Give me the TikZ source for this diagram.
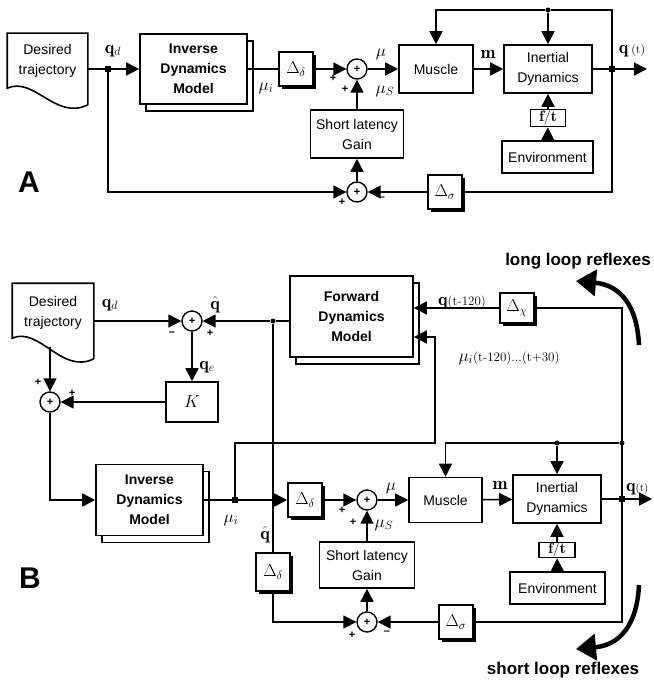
\documentclass[tikz,border=0pt]{standalone}
\usepackage{fontspec}
\setsansfont{Liberation Sans}
\usepackage{amsmath,amssymb}
\usetikzlibrary{arrows.meta,shadows}

\tikzset{
  blk/.style={draw, line width=1.6pt, fill=white, align=center, inner sep=0pt,
    font=\sffamily\fontsize{14}{20}\selectfont},
  mdl/.style={blk, font=\sffamily\bfseries\fontsize{14}{20}\selectfont,
    copy shadow={shadow xshift=6pt, shadow yshift=-7pt}},
  dly/.style={draw, line width=1.6pt, fill=white, minimum width=34pt, minimum height=34pt,
    inner sep=0pt, font=\fontsize{18}{18}\selectfont,
    drop shadow={shadow xshift=3pt, shadow yshift=-3pt, fill=black, opacity=1}},
  sum/.style={circle, draw, line width=1.4pt, fill=white, minimum size=20pt, inner sep=0pt,
    font=\sffamily\bfseries\fontsize{11}{11}\selectfont},
  jct/.style={fill, rectangle, minimum size=6pt, inner sep=0pt},
  dot/.style={fill, circle, minimum size=5pt, inner sep=0pt},
  sgn/.style={font=\sffamily\bfseries\fontsize{11}{11}\selectfont, inner sep=0pt},
  lbl/.style={font=\fontsize{18}{18}\selectfont, inner sep=0pt},
  wire/.style={line width=1.6pt},
  arr/.style={-{Triangle[length=13pt,width=13pt]}},
  rfx/.style={line width=4.5pt, -{Triangle[length=20pt,width=26pt]}},
  ttl/.style={font=\sffamily\bfseries\fontsize{30}{30}\selectfont},
  rfxtxt/.style={font=\sffamily\bfseries\fontsize{17}{17}\selectfont}
}

\begin{document}
\begin{tikzpicture}[x=1pt,y=-1pt]
\clip (0,0) rectangle (653,682);

% ---------- A ----------
\node[blk, draw=none, fill=none, minimum width=79pt, minimum height=70pt] (dtA) at (47.5,69) {Desired\\trajectory\\~};
\draw[wire] (dtA.south east) -- (dtA.north east) -- (dtA.north west) -- ++(0,55)
  .. controls +(27,-12) and +(-32,16) .. (dtA.south east);
\node[jct] (jA1) at (108,69) {};
\node[mdl, minimum width=107pt, minimum height=70pt] (idmA) at (193.5,69) {Inverse\\Dynamics\\Model};
\node[dly] (ddA) at (296,69) {$\Delta_\delta$};
\node[sum] (sA1) at (357,69) {+};
\node[blk, minimum width=74pt, minimum height=48pt] (musA) at (436,69) {Muscle};
\node[blk, minimum width=88pt, minimum height=48pt] (inA) at (548,69) {Inertial\\Dynamics};
\node[jct] (jA2) at (612,69) {};
\coordinate (oA) at (647,69);
\node[dot] (tA) at (548,10) {};
\node[blk, minimum width=35pt, minimum height=17pt, font=\fontsize{15}{15}\selectfont] (ftA) at (548,118) {$\mathbf{f/t}$};
\node[blk, minimum width=91pt, minimum height=32pt] (envA) at (547.5,157) {Environment};
\node[blk, minimum width=93pt, minimum height=48pt] (slgA) at (357,134) {Short latency\\Gain};
\node[sum] (sA2) at (357,192) {+};
\node[dly] (dsA) at (445,192) {$\Delta_\sigma$};

\draw[wire] (dtA) -- (jA1);
\draw[wire, arr] (jA1) -- (idmA);
\draw[wire] (idmA) -- (ddA);
\draw[wire, arr] (ddA) -- (sA1);
\draw[wire, arr] (sA1) -- (musA);
\draw[wire, arr] (musA) -- (inA);
\draw[wire] (inA) -- (jA2);
\draw[wire, arr] (jA2) -- (oA);
\draw[wire, arr] (jA2) |- (tA) -| (musA);
\draw[wire, arr] (tA) -- (inA);
\draw[wire, arr] (envA) -- (ftA);
\draw[wire, arr] (ftA) -- (inA);
\draw[wire, arr] (slgA) -- (sA1);
\draw[wire, arr] (sA2) -- (slgA);
\draw[wire, arr] (jA1) |- (sA2);
\draw[wire] (jA2) |- (dsA);
\draw[wire, arr] (dsA) -- (sA2);

\node[lbl] (lqdA) at (113,51) {$\mathbf{q}_d$};
\node[lbl] (lmuiA) at (266,88) {$\mu_i$};
\node[lbl] (lmuA) at (381,54) {$\mu$};
\node[lbl] (lmusA) at (385,91) {$\mu_S$};
\node[lbl] (lmA) at (488,54) {$\mathbf{m}$};
\node[lbl] (lqA) at (632,51) {$\mathbf{q}$\,{\fontsize{12}{12}\selectfont(t)}};
\node[sgn] (pA1) at (333,78) {+};
\node[sgn] (pA2) at (345,89) {+};
\node[sgn] (pA3) at (342,202) {+};
\node[sgn] (mA1) at (382,199) {--};
\node[ttl] (lA) at (29,182) {A};

% ---------- B ----------
\node[blk, draw=none, fill=none, minimum width=80pt, minimum height=74pt] (dtB) at (53,321) {Desired\\trajectory\\~};
\draw[wire] (dtB.south east) -- (dtB.north east) -- (dtB.north west) -- ++(0,55)
  .. controls +(27,-12) and +(-32,16) .. (dtB.south east);
\coordinate (dtBb) at (50,347);
\node[sum] (sB1) at (192,321) {+};
\node[dot] (jB1) at (273,321) {};
\node[mdl, minimum width=123pt, minimum height=81pt] (fdm) at (351.5,316.5) {Forward\\Dynamics\\Model};
\node[dly, minimum height=30pt] (dcB) at (517,308) {$\Delta_\chi$};
\node[sum] (sB2) at (50,402) {+};
\node[blk, minimum width=52pt, minimum height=40pt, font=\fontsize{18}{18}\selectfont] (K) at (192,402) {$K$};
\node[mdl, minimum width=107pt, minimum height=71pt] (idmB) at (149.5,500) {Inverse\\Dynamics\\Model};
\node[jct] (jB2) at (235,500) {};
\node[dly] (ddB1) at (305,500) {$\Delta_\delta$};
\node[dly, minimum height=38pt] (ddB2) at (273,572) {$\Delta_\delta$};
\node[sum] (sB3) at (367,500) {+};
\node[blk, minimum width=73pt, minimum height=45pt] (musB) at (445.5,500) {Muscle};
\node[blk, minimum width=88pt, minimum height=48pt] (inB) at (557,499) {Inertial\\Dynamics};
\node[dot] (jB3) at (622,443) {};
\node[jct] (jB4) at (622,499) {};
\node[dot] (tB) at (557,443) {};
\coordinate (oB) at (652,499);
\node[blk, minimum width=36pt, minimum height=15pt, font=\fontsize{15}{15}\selectfont] (ftB) at (557,550) {$\mathbf{f/t}$};
\node[blk, minimum width=95pt, minimum height=32pt] (envB) at (557.5,588) {Environment};
\node[blk, minimum width=95pt, minimum height=46pt] (slgB) at (367,565) {Short latency\\Gain};
\node[sum] (sB4) at (367,622) {+};
\node[dly] (dsB) at (456,622) {$\Delta_\sigma$};
\coordinate (cB1) at (435,443);
\coordinate (cB2) at (435,337);
\coordinate (cB4) at (622,622);

\draw[wire, arr] (dtB.east) -- (sB1);
\draw[wire, arr] (jB1) -- (sB1);
\draw[wire] (jB1) -- (jB1 -| fdm.west);
\draw[wire, arr] (sB1) -- (K);
\draw[wire, arr] (dtBb) -- (sB2);
\draw[wire, arr] (K) -- (sB2);
\draw[wire, arr] (sB2) |- (idmB);
\draw[wire] (idmB) -- (jB2);
\draw[wire, arr] (jB2) -- (ddB1);
\draw[wire, arr] (jB2) |- (cB1) -- (cB2) -- (cB2 -| fdm.east);
\draw[wire] (jB1) -- (ddB2);
\draw[wire, arr] (ddB2) |- (sB4);
\draw[wire, arr] (ddB1) -- (sB3);
\draw[wire, arr] (sB3) -- (musB);
\draw[wire, arr] (musB) -- (inB);
\draw[wire] (inB) -- (jB4);
\draw[wire, arr] (jB4) -- (oB);
\draw[wire, arr] (dcB) -- (dcB -| fdm.east);
\draw[wire] (dcB) -| (cB4) -- (dsB);
\draw[wire, arr] (jB3) -| (musB);
\draw[wire, arr] (tB) -- (inB);
\draw[wire, arr] (envB) -- (ftB);
\draw[wire, arr] (ftB) -- (inB);
\draw[wire, arr] (slgB) -- (sB3);
\draw[wire, arr] (sB4) -- (slgB);
\draw[wire, arr] (dsB) -- (sB4);

\node[lbl] (lqdB) at (110,305) {$\mathbf{q}_d$};
\node[lbl] (lqhB1) at (215,305) {$\hat{\mathbf{q}}$};
\node[sgn] (mB1) at (172,334) {--};
\node[sgn] (pB1) at (210,333) {+};
\node[lbl] (lqeB) at (207,367) {$\mathbf{q}_e$};
\node[sgn] (pB2) at (38,382) {+};
\node[sgn] (pB3) at (72,393) {+};
\node[lbl] (lmuiB) at (231,520) {$\mu_i$};
\node[lbl] (lqhB2) at (265,535) {$\hat{\mathbf{q}}$};
\node[lbl] (lmuB) at (391,488) {$\mu$};
\node[lbl] (lmusB) at (384,525) {$\mu_S$};
\node[sgn] (pB4) at (342,510) {+};
\node[sgn] (pB5) at (353,522) {+};
\node[lbl] (lmB) at (500,485) {$\mathbf{m}$};
\node[lbl, anchor=west] (lqB) at (626,489) {$\mathbf{q}${\fontsize{11}{11}\selectfont(t)}};
\node[sgn] (pB6) at (352,635) {+};
\node[sgn] (mB2) at (387,633) {--};
\node[lbl] (lqdlB) at (462,302) {$\mathbf{q}${\fontsize{13}{13}\selectfont(t-120)}};
\node[lbl] (lmuwB) at (509,358) {$\mu_i${\fontsize{13}{13}\selectfont(t-120)...(t+30)}};
\node[ttl] (lB) at (30,578) {B};

% reflex loops
\node[rfxtxt] (llr) at (578,261) {long loop reflexes};
\node[rfxtxt] (slr) at (563,670) {short loop reflexes};
\coordinate (llS) at (639,345);
\coordinate (llE) at (576,281);
\coordinate (slS) at (639,585);
\coordinate (slE) at (576,649);
\draw[rfx] (llS) .. controls (637,305) and (620,285) .. (llE);
\draw[rfx] (slS) .. controls (637,625) and (620,645) .. (slE);

\end{tikzpicture}
\end{document}
